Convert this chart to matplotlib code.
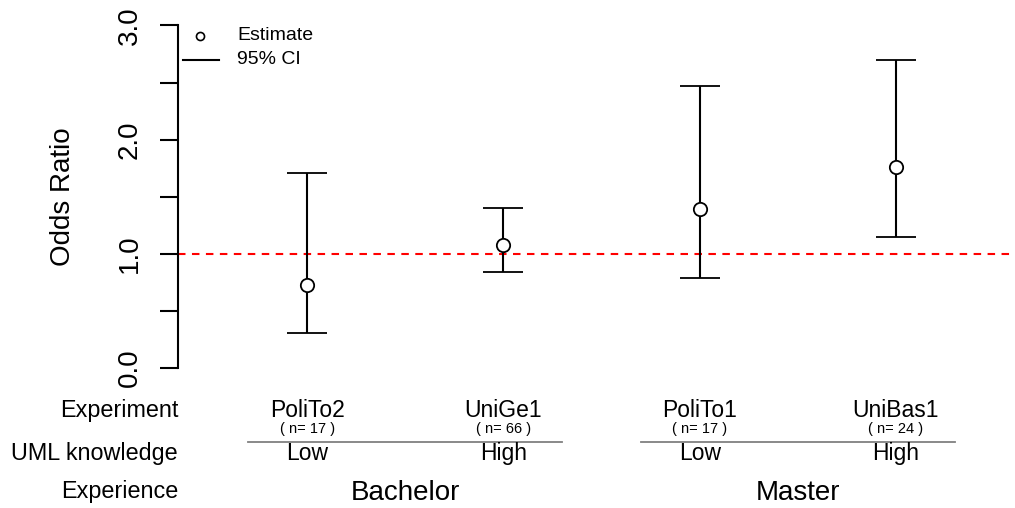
import matplotlib
matplotlib.use("Agg")
import matplotlib.pyplot as plt
import matplotlib.transforms as mtransforms
from matplotlib.lines import Line2D

# data
experiments = ["PoliTo2", "UniGe1", "PoliTo1", "UniBas1"]
n_subjects = [17, 66, 17, 24]
uml_knowledge = ["Low", "High", "Low", "High"]
experience = ["Bachelor", "Master"]
estimate = [0.73, 1.08, 1.39, 1.76]
ci_low = [0.31, 0.84, 0.79, 1.15]
ci_high = [1.71, 1.40, 2.47, 2.70]
y_ticks = [0.0, 0.5, 1.0, 1.5, 2.0, 2.5, 3.0]
y_tick_labels = ["0.0", "", "1.0", "", "2.0", "", "3.0"]
row_labels = ["Experiment", "UML knowledge", "Experience"]
legend_labels = ["Estimate", "95% CI"]

plt.rcParams["font.family"] = ["Liberation Sans", "DejaVu Sans"]

W, H = 1015, 508
fig = plt.figure(figsize=(W / 100, H / 100), dpi=100)


def fy(px):
    return 1 - px / H


ax = fig.add_axes([177.8 / W, fy(381.7), (1013.6 - 177.8) / W, (381.7 - 11.7) / H])
ax.set_xlim(0.34, 4.6)
ax.set_ylim(-0.12, 3.12)

xs = list(range(1, len(experiments) + 1))
yerr = [[e - lo for e, lo in zip(estimate, ci_low)],
        [hi - e for e, hi in zip(estimate, ci_high)]]

lw = 1.5
ax.axhline(1.0, color="red", lw=lw, ls=(0, (3.6, 3.1)), zorder=1)
ax.errorbar(xs, estimate, yerr=yerr, fmt="o", mfc="white", mec="black", ms=9.6, mew=1.3,
            ecolor="black", elinewidth=lw, capsize=14.4, capthick=lw, zorder=3)

for s in ["top", "right", "bottom"]:
    ax.spines[s].set_visible(False)
ax.spines["left"].set_bounds(0, 3)
ax.spines["left"].set_linewidth(lw)
ax.set_xticks([])
ax.set_yticks(y_ticks, y_tick_labels, rotation=90, rotation_mode="anchor",
              ha="center", va="baseline", fontsize=20)
ax.tick_params(axis="y", length=13, width=lw, pad=16.6)

fig.text(70 / W, fy(196.7), "Odds Ratio", rotation=90, rotation_mode="anchor",
         ha="center", va="baseline", fontsize=20)

# legend in the top left corner
fig.add_artist(Line2D([200 / W], [fy(36)], marker="o", mfc="white", mec="black",
                      ms=5.8, mew=1.2, ls="none"))
fig.add_artist(Line2D([182.7 / W, 219.3 / W], [fy(60), fy(60)], color="black", lw=lw))
fig.text(237 / W, fy(36), legend_labels[0], ha="left", va="center", fontsize=14)
fig.text(237 / W, fy(60), legend_labels[1], ha="left", va="center", fontsize=14)

# table under the plot
trans = mtransforms.blended_transform_factory(ax.transData, fig.transFigure)
for i, x in enumerate(xs):
    ax.text(x, fy(416.7), experiments[i], transform=trans, ha="center", va="baseline", fontsize=16.5)
    ax.text(x, fy(433), "( n= %d )" % n_subjects[i], transform=trans, ha="center",
            va="baseline", fontsize=10.5)
    ax.text(x, fy(460), uml_knowledge[i], transform=trans, ha="center", va="baseline", fontsize=16.5)

for j, lab in enumerate(experience):
    a, b = xs[2 * j], xs[2 * j + 1]
    ax.plot([a - 0.3, b + 0.3], [fy(441.7), fy(441.7)], transform=trans, color="#808080",
            lw=1.3, clip_on=False)
    ax.text((a + b) / 2, fy(500), lab, transform=trans, ha="center", va="baseline", fontsize=20)

for lab, py in zip(row_labels, [416.7, 460, 498]):
    fig.text(178 / W, fy(py), lab, ha="right", va="baseline", fontsize=16.8)

fig.savefig("out.png", dpi=100)
